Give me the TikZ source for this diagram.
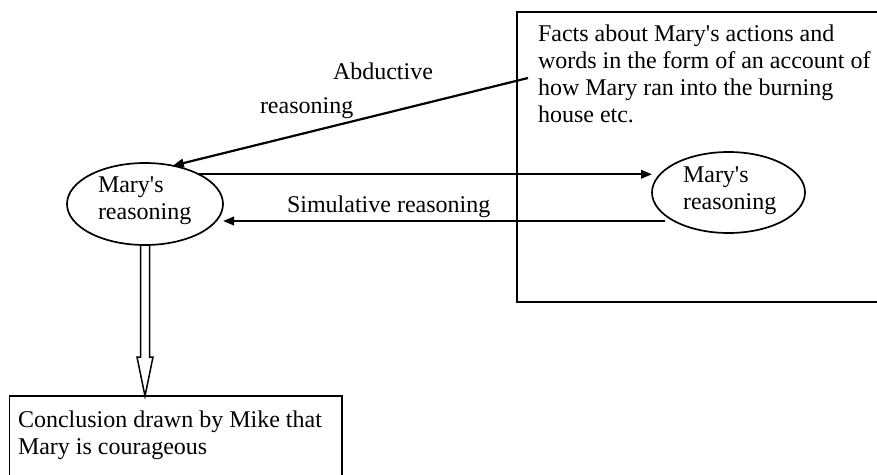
\documentclass[tikz,border=0pt]{standalone}
\usepackage{fontspec}
\setmainfont{Liberation Serif}
\usetikzlibrary{arrows.meta,shapes.geometric}
\newcommand\ap{\textquotesingle}
\newcommand\lines[1]{\begin{tabular}[t]{@{}l@{}}#1\end{tabular}}
\begin{document}
\begin{tikzpicture}[x=1pt,y=-1pt,
  every node/.style={font=\fontsize{24}{27}\selectfont,inner sep=0pt,outer sep=0pt},
  txt/.style={anchor=base west},
  boxshape/.style={draw,line width=1.8pt,anchor=north west},
  oval/.style={draw,ellipse,line width=1.7pt,minimum width=156pt,minimum height=82pt},
  arr/.style={line width=2.2pt,-{Triangle[length=11pt,width=8.5pt]}},
  hollow/.style={line width=1.5pt,line join=miter}]
\useasboundingbox (0,0) rectangle (877,474);
\clip (0,0) rectangle (877,474);

% boxes
\node[boxshape,minimum width=400pt,minimum height=290pt] (F) at (517,12) {};
\node[txt] (Ft) at (538,41) {\lines{Facts about Mary\ap s actions and\\words in the form of an account of\\how Mary ran into the burning\\house etc.}};

\node[boxshape,minimum width=332.5pt,minimum height=120pt] (C) at (9.5,396) {};
\node[txt] (Ct) at (18,427) {\lines{Conclusion drawn by Mike that\\Mary is courageous}};

% ellipses
\node[oval] (L) at (145,204) {};
\node[txt] (Lt) at (98,192) {\lines{Mary\ap s\\reasoning}};
\node[oval,minimum width=153pt,minimum height=81pt] (R) at (728.5,192.5) {};
\node[txt] (Rt) at (683,182) {\lines{Mary\ap s\\reasoning}};

% labels
\node[txt] (ab1) at (333,79) {Abductive};
\node[txt] (ab2) at (260,113) {reasoning};
\node[txt] (sim) at (287,212) {Simulative reasoning};

% connectors
\coordinate (a1) at (528,78);
\draw[arr] (a1) -- (L.54);
\draw[arr] (L.29.5) -- (L.29.5 -| R.west);
\coordinate (s2) at (665,221);
\draw[arr] (s2) -- (L.east |- s2);

\draw[hollow] ([xshift=-4.5pt]L.south) -- ++(0,112) -- ++(-3.5,0)
  -- (L.south |- C.north) -- ++(8,-39) -- ++(-3.5,0) -- ([xshift=4.5pt]L.south);
\end{tikzpicture}
\end{document}
